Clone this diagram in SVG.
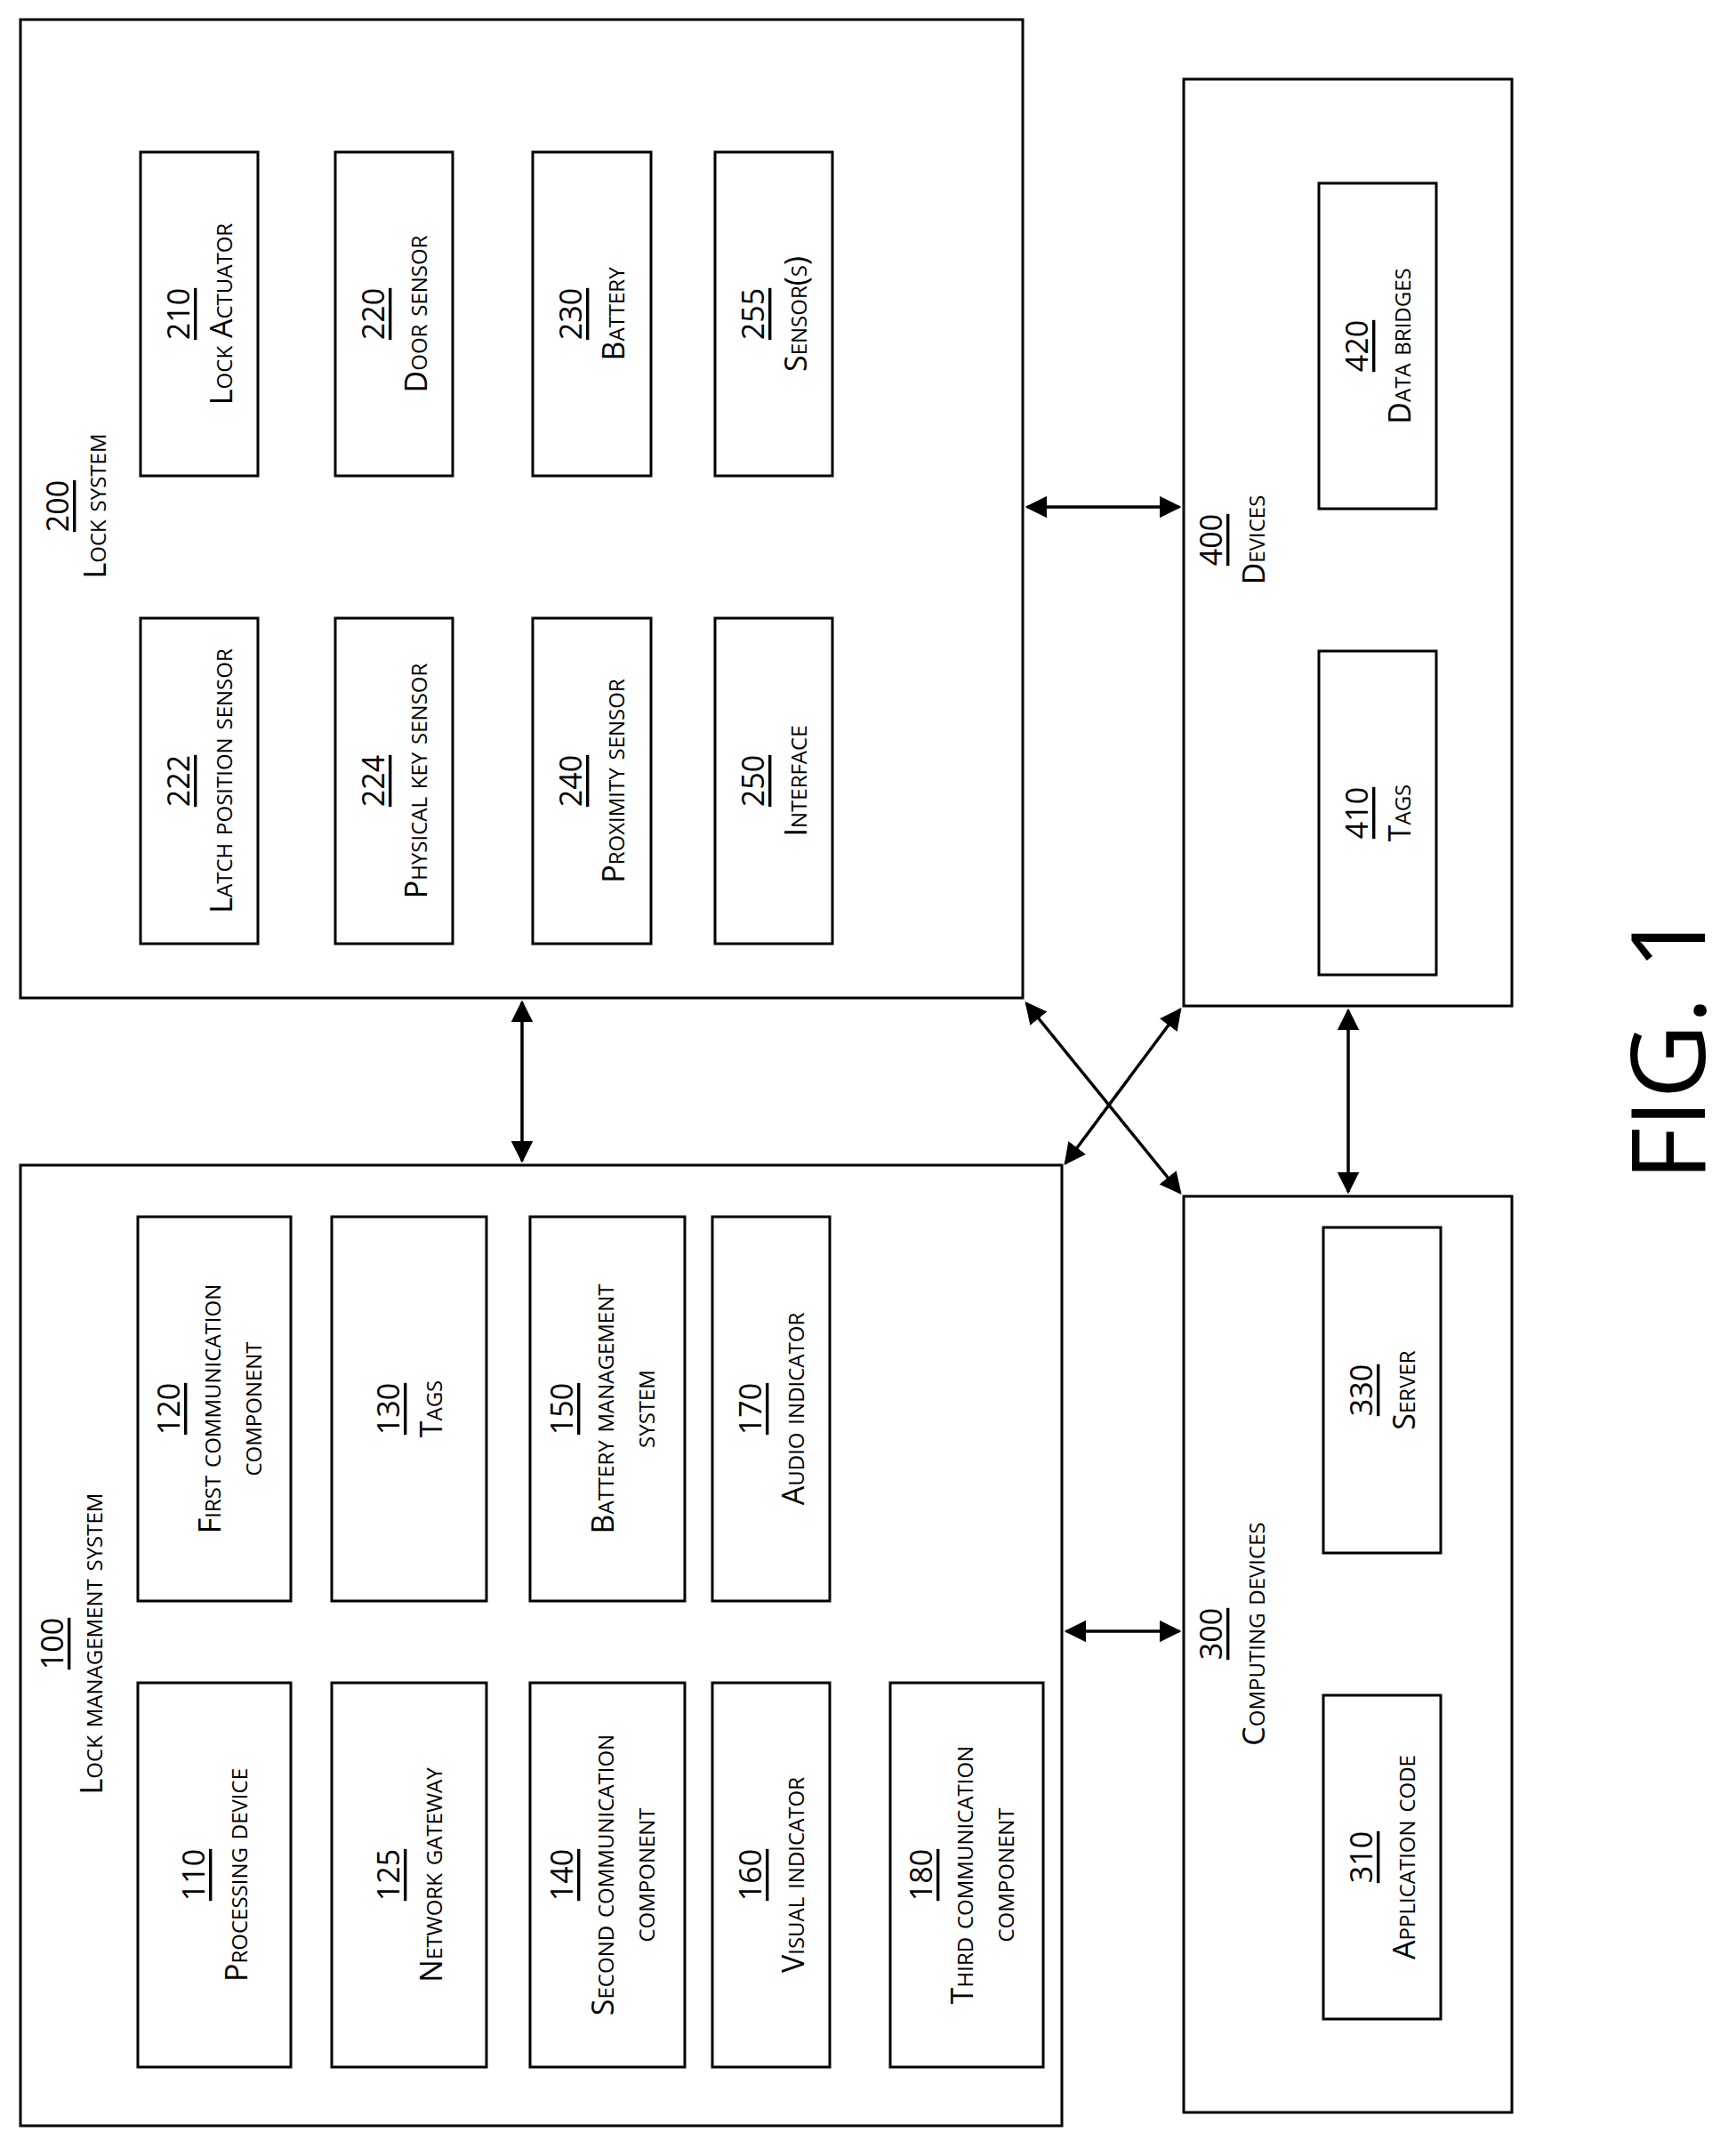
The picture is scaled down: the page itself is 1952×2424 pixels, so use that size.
<svg xmlns="http://www.w3.org/2000/svg" width="1952" height="2424" viewBox="0 0 1952 2424">
<style>
rect{fill:#fff;stroke:#000;stroke-width:3}
text{font-family:"Open Sans","Liberation Sans",sans-serif;font-size:34px;font-variant:small-caps;text-anchor:middle;dominant-baseline:central;fill:#000}
.n{text-decoration:underline}
.c{stroke:#000;stroke-width:3.5;fill:none;marker-start:url(#a);marker-end:url(#a)}
.fig{font-size:116px;font-variant:normal}
</style>
<defs><marker id="a" viewBox="0 0 10 10" refX="9" refY="5" markerWidth="7" markerHeight="7" orient="auto-start-reverse" markerUnits="strokeWidth"><path d="M0,0L10,5L0,10z" fill="#000"/></marker></defs>
<rect width="1952" height="2424" style="stroke:none"/>
<g id="n200"><rect x="23" y="22" width="1127" height="1100"/>
<text transform="translate(85,569) rotate(-90)"><tspan x="0" y="-21" class="n">200</tspan><tspan x="0" y="21">Lock system</tspan></text></g>
<g id="n210"><rect x="158" y="171" width="132" height="364"/><text transform="translate(224,353) rotate(-90)"><tspan x="0" y="-24" class="n">210</tspan><tspan x="0" y="24">Lock Actuator</tspan></text></g>
<g id="n220"><rect x="377" y="171" width="132" height="364"/><text transform="translate(443,353) rotate(-90)"><tspan x="0" y="-24" class="n">220</tspan><tspan x="0" y="24">Door sensor</tspan></text></g>
<g id="n230"><rect x="599" y="171" width="133" height="364"/><text transform="translate(665,353) rotate(-90)"><tspan x="0" y="-24" class="n">230</tspan><tspan x="0" y="24">Battery</tspan></text></g>
<g id="n255"><rect x="804" y="171" width="132" height="364"/><text transform="translate(870,353) rotate(-90)"><tspan x="0" y="-24" class="n">255</tspan><tspan x="0" y="24">Sensor(s)</tspan></text></g>
<g id="n222"><rect x="158" y="695" width="132" height="366"/><text transform="translate(224,878) rotate(-90)"><tspan x="0" y="-24" class="n">222</tspan><tspan x="0" y="24">Latch position sensor</tspan></text></g>
<g id="n224"><rect x="377" y="695" width="132" height="366"/><text transform="translate(443,878) rotate(-90)"><tspan x="0" y="-24" class="n">224</tspan><tspan x="0" y="24">Physical key sensor</tspan></text></g>
<g id="n240"><rect x="599" y="695" width="133" height="366"/><text transform="translate(665,878) rotate(-90)"><tspan x="0" y="-24" class="n">240</tspan><tspan x="0" y="24">Proximity sensor</tspan></text></g>
<g id="n250"><rect x="804" y="695" width="132" height="366"/><text transform="translate(870,878) rotate(-90)"><tspan x="0" y="-24" class="n">250</tspan><tspan x="0" y="24">Interface</tspan></text></g>

<g id="n400"><rect x="1331" y="89" width="369" height="1042"/><text transform="translate(1385,607) rotate(-90)"><tspan x="0" y="-24" class="n">400</tspan><tspan x="0" y="24">Devices</tspan></text></g>
<g id="n420"><rect x="1483" y="206" width="132" height="366"/><text transform="translate(1549,389) rotate(-90)"><tspan x="0" y="-24" class="n">420</tspan><tspan x="0" y="24">Data bridges</tspan></text></g>
<g id="n410"><rect x="1483" y="732" width="132" height="364"/><text transform="translate(1549,914) rotate(-90)"><tspan x="0" y="-24" class="n">410</tspan><tspan x="0" y="24">Tags</tspan></text></g>

<g id="n100"><rect x="23" y="1310" width="1171" height="1080"/><text transform="translate(80,1848) rotate(-90)"><tspan x="0" y="-22" class="n">100</tspan><tspan x="0" y="22">Lock management system</tspan></text></g>
<g id="n120"><rect x="155" y="1368" width="172" height="432"/><text transform="translate(241,1584) rotate(-90)"><tspan x="0" y="-52" class="n">120</tspan><tspan x="0" y="-6">First communication</tspan><tspan x="0" y="40">component</tspan></text></g>
<g id="n130"><rect x="373" y="1368" width="174" height="432"/><text transform="translate(460,1584) rotate(-90)"><tspan x="0" y="-24" class="n">130</tspan><tspan x="0" y="24">Tags</tspan></text></g>
<g id="n150"><rect x="596" y="1368" width="174" height="432"/><text transform="translate(683,1584) rotate(-90)"><tspan x="0" y="-52" class="n">150</tspan><tspan x="0" y="-6">Battery management</tspan><tspan x="0" y="40">system</tspan></text></g>
<g id="n170"><rect x="801" y="1368" width="132" height="432"/><text transform="translate(867,1584) rotate(-90)"><tspan x="0" y="-24" class="n">170</tspan><tspan x="0" y="24">Audio indicator</tspan></text></g>
<g id="n110"><rect x="155" y="1892" width="172" height="432"/><text transform="translate(241,2108) rotate(-90)"><tspan x="0" y="-24" class="n">110</tspan><tspan x="0" y="24">Processing device</tspan></text></g>
<g id="n125"><rect x="373" y="1892" width="174" height="432"/><text transform="translate(460,2108) rotate(-90)"><tspan x="0" y="-24" class="n">125</tspan><tspan x="0" y="24">Network gateway</tspan></text></g>
<g id="n140"><rect x="596" y="1892" width="174" height="432"/><text transform="translate(683,2108) rotate(-90)"><tspan x="0" y="-52" class="n">140</tspan><tspan x="0" y="-6">Second communication</tspan><tspan x="0" y="40">component</tspan></text></g>
<g id="n160"><rect x="801" y="1892" width="132" height="432"/><text transform="translate(867,2108) rotate(-90)"><tspan x="0" y="-24" class="n">160</tspan><tspan x="0" y="24">Visual indicator</tspan></text></g>
<g id="n180"><rect x="1001" y="1892" width="172" height="432"/><text transform="translate(1087,2108) rotate(-90)"><tspan x="0" y="-52" class="n">180</tspan><tspan x="0" y="-6">Third communication</tspan><tspan x="0" y="40">component</tspan></text></g>

<g id="n300"><rect x="1331" y="1345" width="369" height="1030"/><text transform="translate(1385,1837) rotate(-90)"><tspan x="0" y="-24" class="n">300</tspan><tspan x="0" y="24">Computing devices</tspan></text></g>
<g id="n330"><rect x="1488" y="1380" width="132" height="366"/><text transform="translate(1554,1563) rotate(-90)"><tspan x="0" y="-24" class="n">330</tspan><tspan x="0" y="24">Server</tspan></text></g>
<g id="n310"><rect x="1488" y="1906" width="132" height="364"/><text transform="translate(1554,2088) rotate(-90)"><tspan x="0" y="-24" class="n">310</tspan><tspan x="0" y="24">Application code</tspan></text></g>

<g id="connectors">
<line class="c" x1="1155" y1="570" x2="1326" y2="570"/>
<line class="c" x1="587" y1="1127" x2="587" y2="1305"/>
<line class="c" x1="1516" y1="1136" x2="1516" y2="1340"/>
<line class="c" x1="1199" y1="1834" x2="1326" y2="1834"/>
<line class="c" x1="1154" y1="1128" x2="1327" y2="1341"/>
<line class="c" x1="1327" y1="1135" x2="1198" y2="1308"/>
</g>
<text class="fig" transform="translate(1872,1176) rotate(-90)">FIG. 1</text>
</svg>
